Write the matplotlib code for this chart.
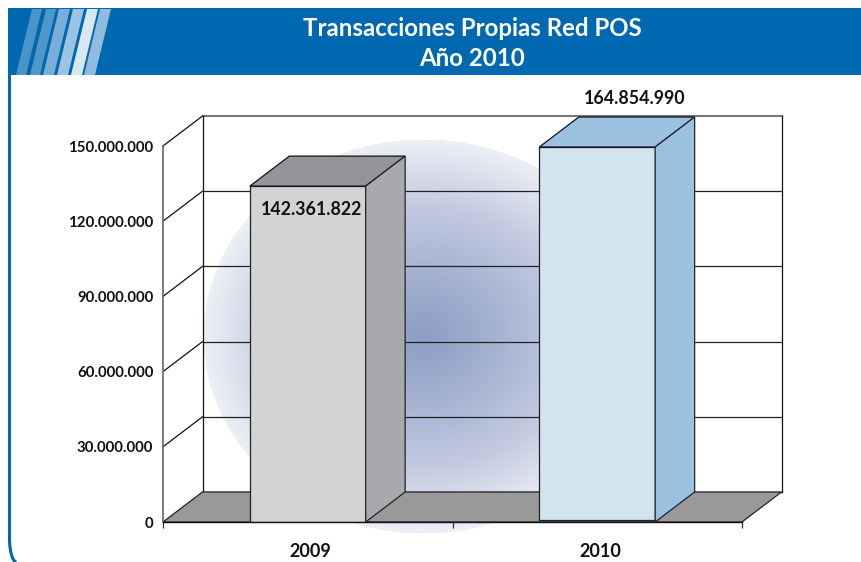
import numpy as np
import matplotlib
matplotlib.use('Agg')
import matplotlib.pyplot as plt
from matplotlib.colors import LinearSegmentedColormap
from matplotlib.patches import Polygon

plt.rcParams['font.family'] = ['Lato', 'DejaVu Sans']

# chart data
years = ['2009', '2010']
# height of the bars as read against the axis (they do not agree with the printed labels)
bar_heights = [134000000, 149600000]
bar_bases = [0, 800000]
bar_labels = ['142.361.822', '164.854.990']
y_ticks = [0, 30000000, 60000000, 90000000, 120000000, 150000000]
y_tick_labels = ['0', '30.000.000', '60.000.000', '90.000.000', '120.000.000', '150.000.000']
title_lines = ['Transacciones Propias Red POS', 'Año 2010']

W, H = 861, 562
fig = plt.figure(figsize=(W / 100, H / 100), dpi=100, facecolor='white')

# background layer in pixel coordinates: banner, border and radial glow
bg = fig.add_axes([0, 0, 1, 1], zorder=0)
bg.axis('off')

blue = '#0067b1'
bg.fill_between([8, W], 8, 75, color=blue, lw=0)
stripes = [(16, 26, '#4a94c8'), (30, 40, '#4f97ca'), (43, 54, '#78aed8'),
           (57, 68, '#9cc3e3'), (71, 82, '#d8e8f3'), (84, 95, '#8fbbde')]
for x0, x1, c in stripes:
    bg.add_patch(Polygon([(x0, 75), (x1, 75), (x1 + 16, 9), (x0 + 16, 9)], color=c, lw=0))

# left border with the rounded corner at the bottom
t = np.linspace(0, np.pi / 2, 30)
border_x = np.concatenate([[9.5], 9.5 + 7 * (1 - np.cos(t))])
border_y = np.concatenate([[75], 538 + 24 * np.sin(t)])
bg.plot(border_x, border_y, color=blue, lw=2.2, solid_capstyle='butt')

cmap = LinearSegmentedColormap.from_list('glow', ['#8c9dc4', '#a5b2d2', '#c3cbe0', '#eeeff6'])
gx, gy = np.meshgrid(np.arange(200, 650), np.arange(130, 540))
r = np.sqrt(((gx - 423) / 220.0) ** 2 + ((gy - 336) / 197.0) ** 2)
img = cmap(np.clip(r, 0, 1))
img[..., 3] = (r <= 1).astype(float)
bg.imshow(img, extent=[200, 650, 540, 130], aspect='auto', zorder=1, interpolation='bilinear')
bg.set_xlim(0, W)
bg.set_ylim(H, 0)

for i, line in enumerate(title_lines):
    bg.text(472, 29 + i * 29, line, color='white', fontsize=17.3, fontweight='bold',
            ha='center', va='center', zorder=5)

# chart axes
ax = fig.add_axes([163 / W, (H - 522) / H, 579 / W, 376 / H], zorder=1)
ax.patch.set_alpha(0)
ax.set_xlim(0, 2)
ax.set_ylim(0, 150000000)

# 3D depth of the plot box, in data units
dx = 39.5 * 2 / 579
dy = 30 * 150000000 / 376

# floor
ax.add_patch(Polygon([(0, 0), (dx, dy), (2 + dx, dy), (2, 0)], facecolor='#999999',
                     edgecolor='#222222', lw=0.9, clip_on=False, zorder=2))

# back wall grid and side wall diagonals
for v in y_ticks:
    c = '#777777' if v == y_ticks[-1] else '#222222'
    lw = 1.5 if v == y_ticks[-1] else 0.9
    ax.plot([dx, 2 + dx], [v + dy, v + dy], color=c, lw=lw, clip_on=False, zorder=1)
    if v > 0:
        ax.plot([0, dx], [v, v + dy], color='#111111', lw=0.9, clip_on=False, zorder=1)
ax.plot([dx, dx], [dy, 150000000 + dy], color='#111111', lw=0.9, clip_on=False, zorder=1)
ax.plot([2 + dx, 2 + dx], [dy, 150000000 + dy], color='#111111', lw=0.9, clip_on=False, zorder=1)

# bars
positions = [0.5, 1.5]
width = 0.4
fronts = ['#d1d3d4', '#d3e4f1']
tops = ['#939598', '#9bc1e1']
sides = ['#a7a9ac', '#9bc1e1']
for i in range(2):
    x0 = positions[i] - width / 2
    x1 = positions[i] + width / 2
    h = bar_heights[i]
    ax.bar(positions[i], h - bar_bases[i], bottom=bar_bases[i], width=width, color=fronts[i],
           edgecolor='#222222', lw=0.9, zorder=3)
    ax.add_patch(Polygon([(x0, h), (x0 + dx, h + dy), (x1 + dx, h + dy), (x1, h)],
                         facecolor=tops[i], edgecolor='#111111', lw=0.9, clip_on=False, zorder=3))
    ax.add_patch(Polygon([(x1, 0), (x1 + dx, dy), (x1 + dx, h + dy), (x1, h)],
                         facecolor=sides[i], edgecolor='#222222', lw=0.9, clip_on=False, zorder=3))

ax.text(positions[0] + 0.012, 124600000, bar_labels[0], fontsize=12.8, fontweight='bold',
        color='#111111', ha='center', va='center', zorder=6)
ax.text(positions[1] + 0.13, 169000000, bar_labels[1], fontsize=12.8, fontweight='bold',
        color='#111111', ha='center', va='center', zorder=6, clip_on=False)

# axes decoration
for s in ['top', 'right']:
    ax.spines[s].set_visible(False)
ax.spines['left'].set_color('#666666')
ax.spines['left'].set_linewidth(1.2)
ax.spines['bottom'].set_color('#111111')
ax.spines['bottom'].set_linewidth(1.0)
ax.spines['left'].set_zorder(4)
ax.spines['bottom'].set_zorder(4)

ax.set_yticks(y_ticks)
ax.set_yticklabels(y_tick_labels, fontsize=10.8, fontweight='bold', color='#111111')
ax.tick_params(axis='y', length=0, pad=7)
ax.set_xticks([0, 1, 2])
ax.set_xticklabels(['', '', ''])
ax.tick_params(axis='x', which='major', length=4, width=0.9, color='#333333')
ax.set_xticks([0.51, 1.51], minor=True)
ax.set_xticklabels(years, minor=True, fontsize=13, fontweight='bold', color='#111111')
ax.tick_params(axis='x', which='minor', length=0, pad=15)

fig.savefig('out.png', dpi=100)
